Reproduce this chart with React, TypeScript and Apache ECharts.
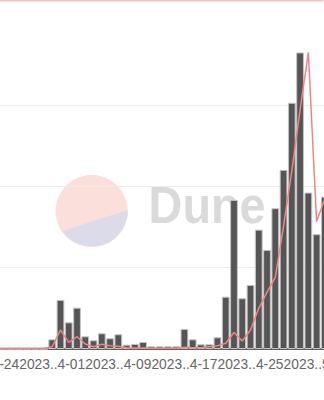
import React, { useEffect, useRef } from "react";
import * as echarts from "echarts";

const dates: string[] = [
  "2023-03-24", "2023-03-25", "2023-03-26", "2023-03-27", "2023-03-28", "2023-03-29", "2023-03-30", "2023-03-31",
  "2023-04-01", "2023-04-02", "2023-04-03", "2023-04-04", "2023-04-05", "2023-04-06", "2023-04-07", "2023-04-08",
  "2023-04-09", "2023-04-10", "2023-04-11", "2023-04-12", "2023-04-13", "2023-04-14", "2023-04-15", "2023-04-16",
  "2023-04-17", "2023-04-18", "2023-04-19", "2023-04-20", "2023-04-21", "2023-04-22", "2023-04-23", "2023-04-24",
  "2023-04-25", "2023-04-26", "2023-04-27", "2023-04-28", "2023-04-29", "2023-04-30", "2023-05-01", "2023-05-02",
  "2023-05-03", "2023-05-04",
];

const barValues: number[] = [
  0, 0, 0, 0, 0, 0, 0, 0,
  119, 603, 328, 508, 156, 107, 193, 132,
  181, 53, 62, 86, 33, 33, 33, 33,
  246, 119, 58, 58, 144, 643, 1833, 624,
  787, 1467, 1218, 1731, 2202, 3026, 3645, 1923,
  1411, 1873,
];

const lineValues: number[] = [
  8, 8, 8, 8, 8, 8, 8, 8,
  28, 234, 82, 151, 62, 28, 58, 41,
  33, 16, 12, 12, 10, 10, 10, 10,
  20, 16, 14, 28, 40, 70, 203, 98,
  234, 500, 700, 879, 1513, 2190, 2940, 3645,
  1566, 1850,
];

const OFF = 17.6;
const CHART_W = 347.3;

const logoSegment = `M${62.7 + OFF} 231 A36 36 0 0 0 ${128.3 + OFF} 210 Z`;
echarts.graphic.registerShape("logoSeg", echarts.graphic.extendPath(logoSegment, {}) as any);

export default function App() {
  const ref = useRef<HTMLDivElement>(null);
  useEffect(() => {
    if (!ref.current) return;
    const chart = echarts.init(ref.current, undefined, { renderer: "svg" });
    chart.setOption({
      animation: false,
      graphic: [
        { type: "rect", shape: { x: OFF, y: 0, width: 324, height: 1.5 }, style: { fill: "#f9c2bd" }, z: 10 },
        { type: "circle", shape: { cx: 92 + OFF, cy: 211, r: 36 }, style: { fill: "#fbdfda" }, z: -10 },
        { type: "logoSeg", x: 0, y: 0, style: { fill: "#dcdbea" }, z: -9 },
        {
          type: "text",
          x: 149 + OFF,
          y: 231,
          scaleX: 0.9,
          z: -9,
          style: {
            text: "Dune",
            fill: "#dadada",
            font: "bold 52px 'Liberation Sans', Arial, sans-serif",
            verticalAlign: "bottom",
          },
        },
      ],
      grid: { left: 0, right: 0, top: 0, bottom: 51, containLabel: false, outerBoundsMode: "none" },
      xAxis: {
        type: "category",
        data: dates,
        boundaryGap: true,
        axisLine: { show: true, lineStyle: { color: "#333", width: 1.5 } },
        axisTick: { show: false },
        axisLabel: {
          interval: 7,
          showMinLabel: true,
          hideOverlap: false,
          color: "#666",
          fontSize: 13.8,
          fontFamily: "'Liberation Sans', Arial, sans-serif",
          margin: 8,
          formatter: (v: string) => v.slice(0, 4) + ".." + v.slice(6),
        },
        splitLine: { show: false },
      },
      yAxis: {
        type: "value",
        min: 0,
        max: 4290,
        interval: 1000,
        axisLine: { show: false },
        axisTick: { show: false },
        axisLabel: { show: false },
        splitLine: {
          show: true,
          lineStyle: { color: ["#ececec", "#ececec", "#ececec", "#ececec", "rgba(0,0,0,0)", "rgba(0,0,0,0)"], width: 1 },
        },
      },
      series: [
        {
          type: "bar",
          data: barValues,
          barCategoryGap: "6%",
          itemStyle: { color: "#555555", borderColor: "#c4c4c4", borderWidth: 1 },
          z: 2,
        },
        {
          type: "line",
          data: lineValues,
          showSymbol: false,
          symbol: "none",
          lineStyle: { color: "#f08585", width: 1.5 },
          z: 3,
        },
      ],
    });
    return () => chart.dispose();
  }, []);
  return (
    <div style={{ position: "absolute", left: 0, top: 0, width: 324, height: 400, overflow: "hidden" }}>
      <div ref={ref} style={{ position: "absolute", left: -OFF, top: 0, width: CHART_W, height: 400 }} />
    </div>
  );
}
